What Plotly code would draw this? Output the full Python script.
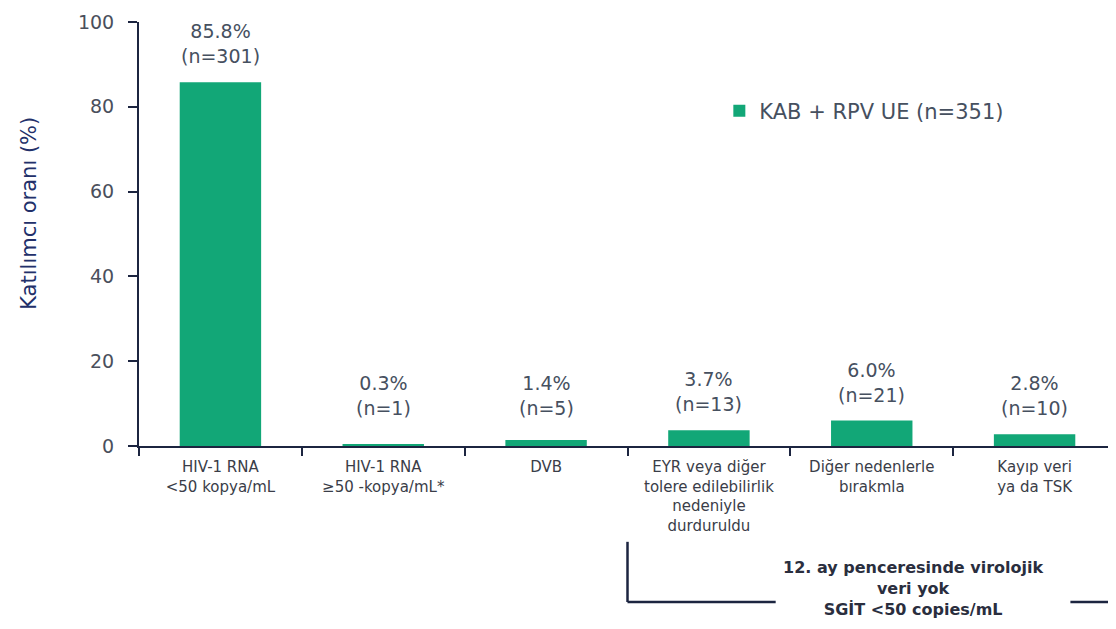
import plotly.graph_objects as go

categories = [
    "HIV-1 RNA<br><50 kopya/mL",
    "HIV-1 RNA<br>≥50 -kopya/mL*",
    "DVB",
    "EYR veya diğer<br>tolere edilebilirlik<br>nedeniyle<br>durduruldu",
    "Diğer nedenlerle<br>bırakmla",
    "Kayıp veri<br>ya da TSK",
]
values = [85.8, 0.3, 1.4, 3.7, 6.0, 2.8]
counts = [301, 1, 5, 13, 21, 10]
series_name = "KAB + RPV UE (n=351)"
y_ticks = [0, 20, 40, 60, 80, 100]

BAR = "#12a777"
NAVY = "#1c2540"
TXT = "#46505f"
FONT = "DejaVu Sans, Arial, sans-serif"

fig = go.Figure()
fig.add_trace(go.Bar(
    x=list(range(len(categories))), y=values, name=series_name,
    marker=dict(color=BAR, line=dict(width=0)), width=0.5,
    showlegend=True,
))

for i, (v, n) in enumerate(zip(values, counts)):
    fig.add_annotation(
        x=i, y=max(v, 2.8), xref="x", yref="y",
        text=f"{v:.1f}%<br>(n={n})", showarrow=False,
        yanchor="bottom", yshift=13,
        font=dict(family=FONT, size=19, color=TXT),
    )

# y-axis title
fig.add_annotation(
    x=-0.1126, y=0.55, xref="paper", yref="paper",
    text="Katılımcı oranı (%)", textangle=-90, showarrow=False,
    xanchor="center", yanchor="middle",
    font=dict(family=FONT, size=21, color="#22306a"),
)

# bracket under the last three categories
def px(c):
    return (c + 0.5) / len(categories)

fig.add_shape(type="line", xref="paper", yref="paper",
              x0=px(2.5), x1=px(2.5), y0=-0.226, y1=-0.368,
              line=dict(color=NAVY, width=2.5))
fig.add_shape(type="line", xref="paper", yref="paper",
              x0=px(2.5), x1=px(3.41), y0=-0.368, y1=-0.368,
              line=dict(color=NAVY, width=2.5))
fig.add_shape(type="line", xref="paper", yref="paper",
              x0=px(5.22), x1=1.0, y0=-0.368, y1=-0.368,
              line=dict(color=NAVY, width=2.5))
fig.add_annotation(
    x=px(4.255), y=-0.335, xref="paper", yref="paper",
    text="<b>12. ay penceresinde virolojik<br>veri yok<br>SGİT <50 copies/mL</b>",
    showarrow=False, xanchor="center", yanchor="middle",
    font=dict(family=FONT, size=16, color="#2a2e3e"),
)

fig.update_layout(
    width=1108, height=621,
    margin=dict(l=131, r=0, t=14, b=183),
    plot_bgcolor="white", paper_bgcolor="white",
    font=dict(family=FONT),
    legend=dict(x=0.594, y=0.79, xanchor="left", yanchor="middle",
                font=dict(family=FONT, size=21, color=TXT),
                bgcolor="rgba(0,0,0,0)"),
    bargap=0.5,
)
fig.update_xaxes(
    range=[-0.5, 5.5], tickmode="array",
    tickvals=list(range(len(categories))), ticktext=categories,
    showline=True, linecolor=NAVY, linewidth=2,
    ticks="", showgrid=False, zeroline=False, automargin=False,
    ticklabelstandoff=6,
    tickfont=dict(family=FONT, size=15, color="#3a3d48"),
    minor=dict(tickmode="array", tickvals=[-0.5, 0.5, 1.5, 2.5, 3.5, 4.5],
               ticks="outside", ticklen=8, tickwidth=2, tickcolor=NAVY),
)
fig.update_yaxes(
    range=[0, 100], tickvals=y_ticks,
    showline=True, linecolor=NAVY, linewidth=2,
    ticks="outside", ticklen=9, tickwidth=2, tickcolor=NAVY,
    showgrid=False, zeroline=False, automargin=False,
    ticklabelstandoff=10,
    tickfont=dict(family=FONT, size=19, color="#4a4f5c"),
)

fig.write_html("out.html")
